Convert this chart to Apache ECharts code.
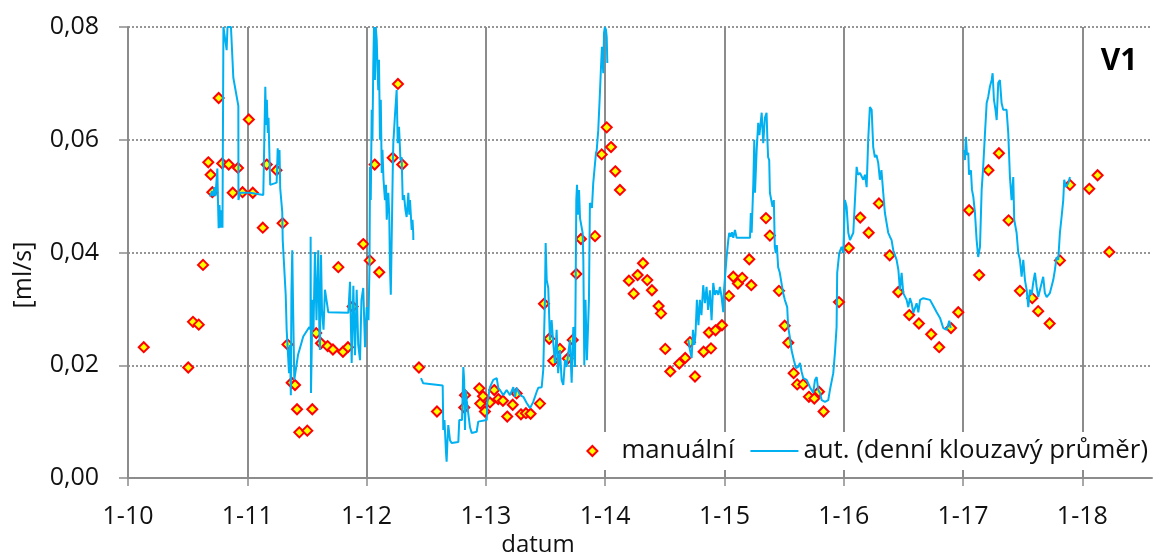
<!DOCTYPE html>
<html>
<head>
<meta charset="utf-8">
<script src="https://cdn.jsdelivr.net/npm/echarts@6/dist/echarts.min.js"></script>
<style>
  html, body { margin: 0; padding: 0; background: #fff; }
  #chart { width: 1154px; height: 558px; }
</style>
</head>
<body>
<div id="chart"></div>
<script>
// Time is given in decimal years (2010.5 = mid 2010), flow in ml/s.
const yearTicks = [2010, 2011, 2012, 2013, 2014, 2015, 2016, 2017, 2018];
const yTicks = [0, 0.02, 0.04, 0.06, 0.08];

// Manual measurements
const manualDate = [
  2010.132, 2010.505, 2010.545, 2010.593, 2010.629, 2010.673, 2010.693, 2010.707, 2010.760, 2010.790,
  2010.844, 2010.878, 2010.922, 2010.960, 2011.013, 2011.046, 2011.130, 2011.163, 2011.245, 2011.296,
  2011.337, 2011.372, 2011.400, 2011.417, 2011.436, 2011.503, 2011.545, 2011.578, 2011.618, 2011.674,
  2011.718, 2011.763, 2011.802, 2011.844, 2011.883, 2011.972, 2012.027, 2012.068, 2012.106, 2012.219,
  2012.263, 2012.299, 2012.439, 2012.590, 2012.819, 2012.825, 2012.945, 2012.953, 2012.976, 2012.992,
  2013.034, 2013.070, 2013.104, 2013.143, 2013.179, 2013.225, 2013.258, 2013.294, 2013.336, 2013.375,
  2013.453, 2013.487, 2013.531, 2013.565, 2013.621, 2013.686, 2013.728, 2013.759, 2013.797, 2013.915,
  2013.971, 2014.013, 2014.049, 2014.085, 2014.124, 2014.199, 2014.239, 2014.272, 2014.317, 2014.353,
  2014.392, 2014.448, 2014.468, 2014.504, 2014.546, 2014.621, 2014.671, 2014.711, 2014.753, 2014.825,
  2014.870, 2014.887, 2014.925, 2014.979, 2015.038, 2015.074, 2015.113, 2015.149, 2015.208, 2015.225,
  2015.348, 2015.381, 2015.457, 2015.505, 2015.535, 2015.580, 2015.610, 2015.660, 2015.708, 2015.753,
  2015.792, 2015.831, 2015.960, 2016.042, 2016.138, 2016.209, 2016.295, 2016.385, 2016.457, 2016.549,
  2016.630, 2016.733, 2016.800, 2016.899, 2016.960, 2017.051, 2017.135, 2017.213, 2017.301, 2017.382,
  2017.477, 2017.580, 2017.630, 2017.726, 2017.812, 2017.896, 2018.058, 2018.128, 2018.226
];
const manualValue = [
  0.0232, 0.0196, 0.0277, 0.0272, 0.0378, 0.0560, 0.0538, 0.0507, 0.0674, 0.0558,
  0.0556, 0.0506, 0.0550, 0.0507, 0.0636, 0.0506, 0.0444, 0.0556, 0.0546, 0.0452,
  0.0237, 0.0169, 0.0165, 0.0122, 0.0081, 0.0084, 0.0122, 0.0257, 0.0239, 0.0234,
  0.0228, 0.0374, 0.0224, 0.0232, 0.0304, 0.0415, 0.0386, 0.0556, 0.0365, 0.0568,
  0.0699, 0.0556, 0.0196, 0.0118, 0.0125, 0.0147, 0.0159, 0.0132, 0.0145, 0.0118,
  0.0134, 0.0156, 0.0140, 0.0137, 0.0109, 0.0130, 0.0150, 0.0113, 0.0115, 0.0114,
  0.0132, 0.0309, 0.0247, 0.0208, 0.0229, 0.0212, 0.0245, 0.0362, 0.0424, 0.0429,
  0.0574, 0.0622, 0.0587, 0.0544, 0.0511, 0.0350, 0.0327, 0.0360, 0.0381, 0.0351,
  0.0333, 0.0305, 0.0292, 0.0229, 0.0189, 0.0203, 0.0213, 0.0241, 0.0180, 0.0224,
  0.0258, 0.0230, 0.0262, 0.0271, 0.0323, 0.0357, 0.0345, 0.0355, 0.0388, 0.0342,
  0.0461, 0.0430, 0.0332, 0.0270, 0.0240, 0.0186, 0.0166, 0.0166, 0.0144, 0.0141,
  0.0153, 0.0118, 0.0312, 0.0408, 0.0462, 0.0435, 0.0487, 0.0395, 0.0330, 0.0289,
  0.0274, 0.0255, 0.0232, 0.0266, 0.0294, 0.0475, 0.0360, 0.0546, 0.0576, 0.0457,
  0.0332, 0.0319, 0.0296, 0.0274, 0.0386, 0.0520, 0.0513, 0.0537, 0.0401
];

// Automatic logger, daily moving average, one array per recording period
const autoPeriod1 = [
  [2010.687, 0.0499], [2010.704, 0.0509], [2010.712, 0.0500], [2010.725, 0.0516], [2010.733, 0.0500],
  [2010.749, 0.0549], [2010.754, 0.0493], [2010.760, 0.0443], [2010.767, 0.0484], [2010.775, 0.0444],
  [2010.784, 0.0475], [2010.792, 0.0444], [2010.799, 0.0444], [2010.800, 0.0800], [2010.813, 0.0800],
  [2010.827, 0.0759], [2010.834, 0.0800], [2010.863, 0.0800], [2010.883, 0.0710], [2010.925, 0.0660],
  [2010.926, 0.0493], [2010.939, 0.0506], [2011.023, 0.0506], [2011.134, 0.0502], [2011.144, 0.0502],
  [2011.151, 0.0694], [2011.158, 0.0626], [2011.164, 0.0671], [2011.172, 0.0612], [2011.178, 0.0639],
  [2011.186, 0.0569], [2011.192, 0.0520], [2011.246, 0.0524], [2011.255, 0.0585], [2011.262, 0.0555],
  [2011.270, 0.0582], [2011.276, 0.0514], [2011.293, 0.0472], [2011.297, 0.0422], [2011.322, 0.0325],
  [2011.330, 0.0263], [2011.341, 0.0263], [2011.350, 0.0186], [2011.358, 0.0236], [2011.365, 0.0147],
  [2011.370, 0.0328], [2011.377, 0.0404], [2011.383, 0.0316], [2011.394, 0.0174], [2011.425, 0.0218],
  [2011.469, 0.0251], [2011.520, 0.0268], [2011.530, 0.0263], [2011.531, 0.0428], [2011.534, 0.0151],
  [2011.547, 0.0316], [2011.555, 0.0263], [2011.567, 0.0401], [2011.580, 0.0280], [2011.595, 0.0404],
  [2011.604, 0.0263], [2011.609, 0.0227], [2011.618, 0.0396], [2011.626, 0.0298], [2011.639, 0.0263],
  [2011.651, 0.0334], [2011.666, 0.0337], [2011.679, 0.0294], [2011.847, 0.0293], [2011.861, 0.0348],
  [2011.875, 0.0204], [2011.889, 0.0341], [2011.903, 0.0218], [2011.917, 0.0334], [2011.930, 0.0236],
  [2011.945, 0.0209], [2011.957, 0.0316], [2011.972, 0.0337], [2011.987, 0.0232], [2012.001, 0.0303],
  [2012.016, 0.0280], [2012.024, 0.0369], [2012.029, 0.0552], [2012.035, 0.0493], [2012.043, 0.0653],
  [2012.049, 0.0600], [2012.056, 0.0729], [2012.062, 0.0800], [2012.070, 0.0706], [2012.077, 0.0800],
  [2012.085, 0.0777], [2012.092, 0.0724], [2012.098, 0.0688], [2012.104, 0.0742], [2012.112, 0.0600],
  [2012.119, 0.0671], [2012.127, 0.0541], [2012.133, 0.0582], [2012.142, 0.0529], [2012.154, 0.0493],
  [2012.163, 0.0520], [2012.169, 0.0458], [2012.182, 0.0506], [2012.190, 0.0467], [2012.196, 0.0374],
  [2012.203, 0.0325], [2012.209, 0.0404], [2012.219, 0.0541], [2012.224, 0.0594], [2012.238, 0.0644],
  [2012.252, 0.0688], [2012.261, 0.0594], [2012.272, 0.0623], [2012.284, 0.0564], [2012.294, 0.0569],
  [2012.303, 0.0493], [2012.314, 0.0502], [2012.326, 0.0475], [2012.336, 0.0463], [2012.343, 0.0484],
  [2012.350, 0.0506], [2012.358, 0.0467], [2012.364, 0.0493], [2012.378, 0.0440], [2012.385, 0.0458],
  [2012.391, 0.0435], [2012.392, 0.0422]
];
const autoPeriod2 = [
  [2012.456, 0.0177], [2012.475, 0.0168], [2012.638, 0.0164], [2012.643, 0.0085], [2012.653, 0.0103],
  [2012.666, 0.0044], [2012.671, 0.0029], [2012.678, 0.0067], [2012.685, 0.0094], [2012.699, 0.0067],
  [2012.713, 0.0062], [2012.769, 0.0064], [2012.777, 0.0103], [2012.800, 0.0103], [2012.811, 0.0197],
  [2012.818, 0.0174], [2012.825, 0.0085], [2012.832, 0.0156], [2012.839, 0.0138], [2012.852, 0.0115],
  [2012.867, 0.0090], [2012.881, 0.0080], [2012.923, 0.0082], [2012.936, 0.0100], [2013.007, 0.0103],
  [2013.012, 0.0133], [2013.034, 0.0161], [2013.062, 0.0174], [2013.091, 0.0177], [2013.104, 0.0160],
  [2013.118, 0.0156], [2013.146, 0.0147], [2013.174, 0.0156], [2013.202, 0.0147], [2013.230, 0.0161],
  [2013.244, 0.0144], [2013.258, 0.0160], [2013.286, 0.0147], [2013.314, 0.0144], [2013.342, 0.0133],
  [2013.370, 0.0124], [2013.397, 0.0135], [2013.426, 0.0153], [2013.439, 0.0160], [2013.468, 0.0161],
  [2013.481, 0.0192], [2013.495, 0.0316], [2013.501, 0.0417], [2013.510, 0.0351], [2013.523, 0.0337],
  [2013.537, 0.0245], [2013.551, 0.0280], [2013.565, 0.0239], [2013.579, 0.0204], [2013.593, 0.0263],
  [2013.606, 0.0186], [2013.621, 0.0227], [2013.635, 0.0174], [2013.649, 0.0165], [2013.663, 0.0209],
  [2013.677, 0.0197], [2013.691, 0.0222], [2013.705, 0.0245], [2013.719, 0.0169], [2013.733, 0.0268],
  [2013.747, 0.0197], [2013.753, 0.0351], [2013.758, 0.0493], [2013.764, 0.0520], [2013.772, 0.0467],
  [2013.781, 0.0511], [2013.789, 0.0461], [2013.803, 0.0458], [2013.811, 0.0435], [2013.817, 0.0387],
  [2013.825, 0.0200], [2013.835, 0.0316], [2013.847, 0.0209], [2013.864, 0.0316], [2013.872, 0.0488],
  [2013.889, 0.0479], [2013.900, 0.0523], [2013.914, 0.0520], [2013.923, 0.0577], [2013.929, 0.0581],
  [2013.942, 0.0617], [2013.952, 0.0614], [2013.956, 0.0683], [2013.965, 0.0729], [2013.973, 0.0765],
  [2013.984, 0.0718], [2013.990, 0.0789], [2013.998, 0.0800], [2014.007, 0.0795], [2014.013, 0.0782],
  [2014.018, 0.0736]
];
const autoPeriod3 = [
  [2014.697, 0.0245], [2014.711, 0.0227], [2014.725, 0.0213], [2014.736, 0.0263], [2014.748, 0.0236],
  [2014.757, 0.0254], [2014.769, 0.0316], [2014.782, 0.0271], [2014.794, 0.0316], [2014.807, 0.0289],
  [2014.822, 0.0342], [2014.836, 0.0310], [2014.850, 0.0339], [2014.863, 0.0298], [2014.878, 0.0333],
  [2014.892, 0.0280], [2014.906, 0.0346], [2014.920, 0.0325], [2014.934, 0.0333], [2014.949, 0.0325],
  [2014.962, 0.0339], [2014.976, 0.0321], [2014.990, 0.0294], [2014.996, 0.0333], [2015.018, 0.0392],
  [2015.032, 0.0422], [2015.040, 0.0435], [2015.052, 0.0428], [2015.063, 0.0436], [2015.074, 0.0426],
  [2015.088, 0.0440], [2015.102, 0.0426], [2015.214, 0.0426], [2015.221, 0.0470], [2015.228, 0.0435],
  [2015.242, 0.0523], [2015.250, 0.0600], [2015.256, 0.0506], [2015.270, 0.0582], [2015.283, 0.0630],
  [2015.293, 0.0608], [2015.306, 0.0605], [2015.312, 0.0648], [2015.325, 0.0594], [2015.339, 0.0639],
  [2015.353, 0.0648], [2015.360, 0.0600], [2015.366, 0.0569], [2015.375, 0.0564], [2015.381, 0.0506],
  [2015.395, 0.0507], [2015.403, 0.0481], [2015.414, 0.0493], [2015.422, 0.0410], [2015.430, 0.0399],
  [2015.439, 0.0413], [2015.450, 0.0374], [2015.464, 0.0364], [2015.478, 0.0364], [2015.492, 0.0328],
  [2015.506, 0.0316], [2015.526, 0.0303], [2015.534, 0.0268], [2015.548, 0.0250], [2015.562, 0.0227],
  [2015.582, 0.0209], [2015.599, 0.0195], [2015.618, 0.0197], [2015.633, 0.0204], [2015.647, 0.0188],
  [2015.661, 0.0177], [2015.689, 0.0174], [2015.717, 0.0161], [2015.744, 0.0151], [2015.759, 0.0174],
  [2015.773, 0.0179], [2015.786, 0.0156], [2015.801, 0.0151], [2015.815, 0.0138], [2015.843, 0.0135],
  [2015.870, 0.0138], [2015.884, 0.0156], [2015.912, 0.0186], [2015.926, 0.0222], [2015.940, 0.0268],
  [2015.945, 0.0364], [2015.962, 0.0399], [2015.982, 0.0410], [2015.996, 0.0399], [2016.010, 0.0493],
  [2016.024, 0.0481], [2016.038, 0.0435], [2016.052, 0.0422], [2016.080, 0.0435], [2016.094, 0.0493],
  [2016.108, 0.0552], [2016.119, 0.0538], [2016.136, 0.0541], [2016.164, 0.0529], [2016.178, 0.0538],
  [2016.192, 0.0516], [2016.205, 0.0600], [2016.219, 0.0658], [2016.234, 0.0653], [2016.247, 0.0587],
  [2016.261, 0.0569], [2016.274, 0.0573], [2016.289, 0.0559], [2016.303, 0.0529], [2016.316, 0.0546],
  [2016.331, 0.0506], [2016.345, 0.0470], [2016.358, 0.0470], [2016.373, 0.0435], [2016.387, 0.0428],
  [2016.401, 0.0422], [2016.415, 0.0404], [2016.443, 0.0387], [2016.458, 0.0369], [2016.471, 0.0333],
  [2016.485, 0.0364], [2016.499, 0.0328], [2016.527, 0.0316], [2016.541, 0.0303], [2016.555, 0.0319],
  [2016.569, 0.0310], [2016.583, 0.0293], [2016.611, 0.0310], [2016.625, 0.0294], [2016.640, 0.0316],
  [2016.667, 0.0319], [2016.723, 0.0316], [2016.751, 0.0305], [2016.779, 0.0294], [2016.807, 0.0284],
  [2016.834, 0.0266], [2016.848, 0.0263], [2016.863, 0.0263], [2016.885, 0.0279], [2016.896, 0.0266]
];
const autoPeriod4 = [
  [2017.008, 0.0582], [2017.016, 0.0564], [2017.024, 0.0605], [2017.033, 0.0573], [2017.044, 0.0577],
  [2017.050, 0.0538], [2017.058, 0.0541], [2017.066, 0.0546], [2017.075, 0.0511], [2017.086, 0.0499],
  [2017.100, 0.0470], [2017.114, 0.0422], [2017.127, 0.0392], [2017.142, 0.0410], [2017.156, 0.0511],
  [2017.169, 0.0552], [2017.184, 0.0612], [2017.198, 0.0665], [2017.211, 0.0676], [2017.225, 0.0694],
  [2017.240, 0.0706], [2017.248, 0.0718], [2017.259, 0.0671], [2017.272, 0.0653], [2017.282, 0.0635],
  [2017.295, 0.0701], [2017.309, 0.0706], [2017.323, 0.0665], [2017.337, 0.0653], [2017.365, 0.0653],
  [2017.379, 0.0612], [2017.393, 0.0534], [2017.407, 0.0493], [2017.421, 0.0534], [2017.429, 0.0458],
  [2017.449, 0.0435], [2017.463, 0.0399], [2017.477, 0.0387], [2017.491, 0.0357], [2017.505, 0.0387],
  [2017.519, 0.0351], [2017.533, 0.0334], [2017.547, 0.0303], [2017.561, 0.0334], [2017.575, 0.0325],
  [2017.588, 0.0346], [2017.603, 0.0364], [2017.617, 0.0339], [2017.630, 0.0321], [2017.645, 0.0334],
  [2017.672, 0.0357], [2017.686, 0.0328], [2017.701, 0.0321], [2017.728, 0.0328], [2017.742, 0.0325],
  [2017.756, 0.0351], [2017.770, 0.0369], [2017.784, 0.0392], [2017.798, 0.0387], [2017.812, 0.0435],
  [2017.826, 0.0463], [2017.840, 0.0493], [2017.848, 0.0529], [2017.862, 0.0516], [2017.882, 0.0523],
  [2017.896, 0.0534]
];

const FONT = '"Open Sans", "Noto Sans", sans-serif';
const AXIS_GREY = '#8c8c8c';
const AUTO_NAME = 'aut. (denní klouzavý průměr)';
const MANUAL_NAME = 'manuální';

const chart = echarts.init(document.getElementById('chart'), null, { renderer: 'canvas' });

const lineSeries = [autoPeriod1, autoPeriod2, autoPeriod3, autoPeriod4].map(function (period) {
  return {
    name: AUTO_NAME,
    type: 'line',
    data: period,
    showSymbol: false,
    symbol: 'none',
    clip: true,
    lineStyle: { color: '#00B0F0', width: 2 },
    itemStyle: { color: '#00B0F0' },
    z: 3
  };
});

chart.setOption({
  animation: false,
  backgroundColor: '#ffffff',
  textStyle: { fontFamily: FONT },
  grid: { left: 128, right: 2, top: 27, bottom: 80, containLabel: false, outerBoundsMode: 'none' },
  xAxis: {
    type: 'value',
    min: 2010,
    max: 2018.584,
    interval: 1,
    axisLine: { show: true, lineStyle: { color: AXIS_GREY, width: 2 } },
    axisTick: { show: true, inside: false, length: 8, lineStyle: { color: AXIS_GREY, width: 1.5 }, customValues: yearTicks },
    splitLine: { show: true, showMinLine: false, lineStyle: { color: AXIS_GREY, width: 2, type: 'solid' } },
    axisLabel: {
      margin: 26,
      fontFamily: FONT,
      fontSize: 25,
      color: '#111',
      customValues: yearTicks,
      formatter: function (v) { return '1-' + String(Math.round(v)).slice(2); }
    }
  },
  yAxis: {
    type: 'value',
    min: 0,
    max: 0.08,
    interval: 0.02,
    axisLine: { show: true, lineStyle: { color: AXIS_GREY, width: 2 } },
    axisTick: { show: true, inside: false, length: 9, lineStyle: { color: AXIS_GREY, width: 1.5 } },
    splitLine: { show: true, lineStyle: { color: '#969696', width: 2, type: [2, 2] } },
    axisLabel: {
      margin: 29,
      fontFamily: FONT,
      fontSize: 25,
      color: '#111',
      formatter: function (v) { return v.toFixed(2).replace('.', ','); }
    }
  },
  legend: {
    right: 2,
    top: 432,
    orient: 'horizontal',
    padding: [6, 4, 6, 4],
    itemGap: 16,
    itemWidth: 48,
    itemHeight: 10,
    symbolKeepAspect: true,
    backgroundColor: '#ffffff',
    selectedMode: false,
    textStyle: { fontFamily: FONT, fontSize: 25.8, color: '#111' },
    data: [
      {
        name: MANUAL_NAME,
        icon: 'path://M5 0L10 5L5 10L0 5Z',
        itemStyle: { color: '#FFFF00', borderColor: '#FF0000', borderWidth: 2 }
      },
      {
        name: AUTO_NAME,
        icon: 'path://M0 0H48V2H0Z',
        itemStyle: { color: '#00B0F0', borderWidth: 0 }
      }
    ]
  },
  graphic: [
    {
      type: 'text',
      x: 24,
      y: 275,
      rotation: Math.PI / 2,
      style: { text: '[ml/s]', font: '25px ' + FONT, fill: '#111', textAlign: 'center', textVerticalAlign: 'middle' }
    },
    {
      type: 'text',
      x: 538,
      y: 545,
      style: { text: 'datum', font: '24px ' + FONT, fill: '#111', textAlign: 'center', textVerticalAlign: 'middle' }
    },
    {
      type: 'text',
      x: 1119,
      y: 61,
      style: { text: 'V1', font: 'bold 30px ' + FONT, fill: '#000', textAlign: 'center', textVerticalAlign: 'middle' }
    }
  ],
  series: [
    {
      name: MANUAL_NAME,
      type: 'scatter',
      data: manualDate.map(function (d, i) { return [d, manualValue[i]]; }),
      symbol: 'diamond',
      symbolSize: 10,
      itemStyle: { color: '#FFFF00', borderColor: '#FF0000', borderWidth: 2, opacity: 1 },
      z: 2
    }
  ].concat(lineSeries)
});
</script>
</body>
</html>
